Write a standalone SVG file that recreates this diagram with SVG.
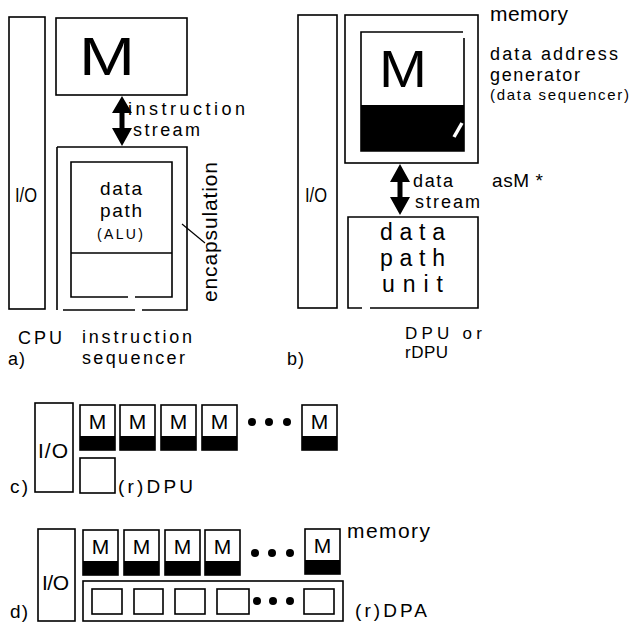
<svg xmlns="http://www.w3.org/2000/svg" width="630" height="623" viewBox="0 0 630 623">
<style>
  .b { fill: none; stroke: #000; stroke-width: 1.6; }
  .w { fill: #fff; stroke: #000; stroke-width: 1.6; }
  .k { fill: #000; stroke: none; }
  text { font-family: "Liberation Sans", Arial, sans-serif; fill: #000; }
  .t22 { font-size: 21px; }
  .t18 { font-size: 18px; }
  .t20 { font-size: 19px; }
  .m { font-size: 21px; text-anchor: middle; }
</style>
<defs>
  <g id="mbox">
    <rect class="w" x="0" y="0" width="35" height="45"/>
    <rect class="k" x="0" y="31" width="35" height="14"/>
    <text class="m" x="17.5" y="24">M</text>
  </g>
</defs>

<!-- Panel a -->
<g id="a-io">
  <rect class="b" x="9" y="17" width="36" height="292"/>
  <text class="t22" x="15" y="202" textLength="22" lengthAdjust="spacingAndGlyphs">I/O</text>
</g>
<g id="a-memory">
  <rect class="b" x="56" y="18" width="131" height="77"/>
  <text x="79" y="75" font-size="53" textLength="56" lengthAdjust="spacingAndGlyphs">M</text>
</g>
<g id="a-sequencer">
  <path class="b" d="M57,147 H187 V310 H142 M135,310 H63 M57,310 V147"/>
  <text class="t18"><tspan x="82" y="343" textLength="110" lengthAdjust="spacing">instruction</tspan><tspan x="82" y="364" textLength="103" lengthAdjust="spacing">sequencer</tspan></text>
</g>
<g id="a-datapath">
  <path class="b" d="M128,297 H71 V162 H172 V297 H135 M71,253 H172"/>
  <text font-size="19"><tspan x="100" y="195" textLength="42" lengthAdjust="spacing">data</tspan><tspan x="100" y="217" textLength="42" lengthAdjust="spacing">path</tspan><tspan font-size="14" x="97" y="239" textLength="46" lengthAdjust="spacing">(ALU)</tspan></text>
</g>
<g id="a-encapsulation">
  <text class="t22" transform="translate(217,302) rotate(-90)" textLength="140" lengthAdjust="spacing">encapsulation</text>
</g>
<g id="a-labels">
  <text class="t18" x="18" y="344" textLength="44" lengthAdjust="spacing">CPU</text>
  <text class="t18" x="8" y="365" textLength="17" lengthAdjust="spacing">a)</text>
</g>

<!-- Panel b -->
<g id="b-io">
  <rect class="b" x="298" y="15" width="39" height="293"/>
  <text class="t22" x="305" y="202" textLength="22" lengthAdjust="spacingAndGlyphs">I/O</text>
</g>
<g id="b-memory">
  <rect class="b" x="345" y="15" width="133" height="148"/>
  <path class="b" d="M463,32 H361 V151 H464 V38"/>
  <rect class="k" x="361" y="105" width="103" height="46"/>
  <line x1="454" y1="137" x2="462" y2="123" stroke="#fff" stroke-width="3.5"/>
  <text x="379" y="87" font-size="52" textLength="48" lengthAdjust="spacingAndGlyphs">M</text>
  <text class="t22" x="490" y="21" textLength="78" lengthAdjust="spacing">memory</text>
  <text class="t18"><tspan x="490" y="60" textLength="128" lengthAdjust="spacing">data address</tspan><tspan x="490" y="81" textLength="90" lengthAdjust="spacing">generator</tspan><tspan font-size="15" x="490" y="100" textLength="139" lengthAdjust="spacing">(data sequencer)</tspan></text>
  <text class="t20" x="492" y="187" textLength="51" lengthAdjust="spacing">asM *</text>
</g>
<g id="b-dpu">
  <path class="b" d="M362,308 H348 V217 H478 V308 H370"/>
  <text font-size="23"><tspan x="380" y="240" textLength="65" lengthAdjust="spacing">data</tspan><tspan x="380" y="266" textLength="65" lengthAdjust="spacing">path</tspan><tspan x="382" y="292" textLength="61" lengthAdjust="spacing">unit</tspan></text>
  <text font-size="17"><tspan x="405" y="339" textLength="77" lengthAdjust="spacing">DPU or</tspan><tspan x="405" y="358" textLength="43" lengthAdjust="spacing">rDPU</tspan></text>
  <text class="t18" x="287" y="365" textLength="17" lengthAdjust="spacing">b)</text>
</g>

<!-- Panel c -->
<g id="c-io">
  <rect class="b" x="35" y="403" width="38" height="89"/>
  <text class="t22" x="38" y="458" textLength="30" lengthAdjust="spacing">I/O</text>
  <text class="t20" x="10" y="493" textLength="18" lengthAdjust="spacing">c)</text>
</g>
<g id="c-memories">
  <use href="#mbox" x="80" y="405"/>
  <use href="#mbox" x="120" y="405"/>
  <use href="#mbox" x="161" y="405"/>
  <use href="#mbox" x="202" y="405"/>
  <circle class="k" cx="252" cy="422" r="4"/>
  <circle class="k" cx="269" cy="422" r="4"/>
  <circle class="k" cx="287" cy="422" r="4"/>
  <use href="#mbox" x="302" y="405"/>
</g>
<g id="c-dpu">
  <rect class="b" x="80" y="458" width="35" height="35"/>
  <text class="t20" x="118" y="493" textLength="75" lengthAdjust="spacing">(r)DPU</text>
</g>

<!-- Panel d -->
<g id="d-io">
  <rect class="b" x="38" y="529" width="37" height="92"/>
  <text class="t22" x="42" y="590" textLength="27" lengthAdjust="spacing">I/O</text>
  <text class="t20" x="10" y="618" textLength="18" lengthAdjust="spacing">d)</text>
</g>
<g id="d-memories">
  <use href="#mbox" x="83" y="530"/>
  <use href="#mbox" x="124" y="530"/>
  <use href="#mbox" x="165" y="530"/>
  <use href="#mbox" x="205" y="530"/>
  <circle class="k" cx="255" cy="553" r="4"/>
  <circle class="k" cx="272" cy="553" r="4"/>
  <circle class="k" cx="290" cy="553" r="4"/>
  <use href="#mbox" x="305" y="529"/>
  <text class="t22" x="347" y="538" textLength="83" lengthAdjust="spacing">memory</text>
</g>
<g id="d-dpa">
  <rect class="b" x="83" y="581" width="260" height="40"/>
  <rect class="b" x="92" y="589" width="30" height="25"/>
  <rect class="b" x="134" y="589" width="29" height="25"/>
  <rect class="b" x="175" y="589" width="30" height="25"/>
  <rect class="b" x="217" y="589" width="32" height="25"/>
  <circle class="k" cx="257" cy="601" r="4"/>
  <circle class="k" cx="273" cy="601" r="4"/>
  <circle class="k" cx="290" cy="601" r="4"/>
  <rect class="b" x="304" y="589" width="30" height="25"/>
  <text class="t20" x="355" y="617" textLength="72" lengthAdjust="spacing">(r)DPA</text>
</g>

<!-- Connectors -->
<g id="connectors">
  <polygon class="k" points="122,96 132,113 124.5,113 124.5,128 132,128 122,146 112,128 119.5,128 119.5,113 112,113"/>
  <text class="t18"><tspan x="128" y="115" textLength="117" lengthAdjust="spacing">instruction</tspan><tspan x="133" y="136" textLength="67" lengthAdjust="spacing">stream</tspan></text>
  <line x1="182" y1="224" x2="205" y2="243" stroke="#000" stroke-width="1.2"/>
  <polygon class="k" points="400,164 410,182 402.5,182 402.5,197 410,197 400,215 390,197 397.5,197 397.5,182 390,182"/>
  <text class="t18"><tspan x="413" y="187" textLength="40" lengthAdjust="spacing">data</tspan><tspan x="415" y="208" textLength="65" lengthAdjust="spacing">stream</tspan></text>
</g>
</svg>
